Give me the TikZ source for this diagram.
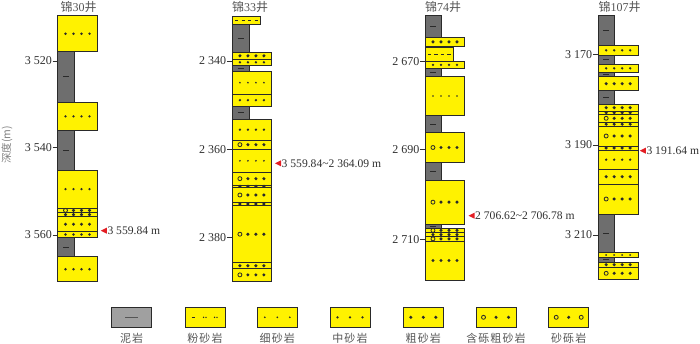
\documentclass[tikz,border=0pt]{standalone}
\usepackage{fontspec}
\setmainfont{Liberation Serif}
\newfontfamily\cjk{Noto Sans CJK SC}
\definecolor{sandy}{HTML}{FFF200}
\definecolor{mudc}{HTML}{6E6E6E}
\definecolor{legmud}{HTML}{A0A0A0}
\definecolor{edgec}{HTML}{2A2A2A}
\definecolor{arrowred}{HTML}{E31E24}
\definecolor{txt}{HTML}{303030}
\definecolor{gtxt}{HTML}{555555}
\tikzset{
  bedst/.style={fill=sandy, draw=edgec, line width=0.9pt},
  mudst/.style={fill=mudc, draw=edgec, line width=0.9pt},
  legmudst/.style={fill=legmud, draw=edgec, line width=0.9pt},
  mudsym/.style={draw=edgec, line width=1pt},
  tickst/.style={draw=txt, line width=0.8pt},
  depthlab/.style={text=txt, inner sep=0pt, font=\fontsize{12}{14}\selectfont},
  marklab/.style={text=txt, inner sep=0pt, font=\fontsize{11.6}{14}\selectfont},
  titlab/.style={text=gtxt, inner sep=0pt, font=\fontsize{12}{14}\selectfont},
  leglab/.style={text=gtxt, inner sep=0pt, font=\cjk\fontsize{11}{13}\selectfont\addfontfeature{LetterSpace=10}},
  axislab/.style={text=gray, inner sep=0pt, font=\cjk\fontsize{10.5}{12}\selectfont}
}
\newcommand\symf[2]{\fill[edgec] (#1,#2) circle (0.95);}
\newcommand\symm[2]{\fill[edgec] (#1,#2) circle (1.3);}
\newcommand\symg[2]{\fill[edgec] (#1,#2) circle (1.7);}
\newcommand\symo[2]{\draw[edgec, line width=0.8pt] (#1,#2) circle (2.0);}
\newcommand\syms[2]{\draw[edgec, line width=0.9pt] ({#1-1.6},#2) -- ({#1+1.6},#2);}
\newcommand\symp[2]{\fill[edgec] ({#1-1.2},#2) circle (0.8); \fill[edgec] ({#1+1.2},#2) circle (0.8);}
\def\bedsp{8}
\newcommand\Bed[5]{%
  \filldraw[bedst] (#1,#3) rectangle (#2,#4);
  \pgfmathsetmacro\bcx{(#1+#2)/2}%
  \pgfmathsetmacro\bcy{(#3+#4)/2}%
  \foreach \k [count=\i] in {#5}{%
    \pgfmathsetmacro\bpx{\bcx+(\i-2.5)*\bedsp}%
    \csname sym\k\endcsname{\bpx}{\bcy}%
  }%
}
\newcommand\SB[3]{\Bed{\xl}{\xr}{#1}{#2}{#3}}
\newcommand\MB[2]{%
  \filldraw[mudst] (\xl,#1) rectangle (\xm,#2);
  \draw[mudsym] ({(\xl+\xm)/2-3},{(#1+#2)/2}) -- ++(6,0);}
\newcommand\Tick[2]{%
  \draw[tickst] ({\xl-5},#1) -- (\xl,#1);
  \node[depthlab, anchor=east] at ({\xl-5.6},#1) {#2};}
\newcommand\Mark[3]{%
  \fill[arrowred] (#1,#2) -- ++(6,-3) -- ++(0,6) -- cycle;
  \node[marklab, anchor=west] at ({#1+6.5},#2) {#3};}
\newcommand\LegBox[1]{\filldraw[bedst] (#1,307.3) rectangle ++(40,20);}
\begin{document}
\begin{tikzpicture}[x=1pt,y=-1pt]
\useasboundingbox (0,0) rectangle (700,343);
% axis label
\node[axislab, rotate=90] (ax) at (7,145) {深度(m)};
% ---------------- well 1
\node[titlab] (t1) at (78.5,6.5) {{\cjk 锦}30{\cjk 井}};
\def\xl{57.7}\def\xr{97.3}\def\xm{74.3}
\SB{15.7}{51.7}{m,m,m,m}
\MB{51.7}{102}
\SB{102}{130.7}{m,m,m,m}
\MB{130.7}{170}
\SB{170}{208.3}{m,m,m,m}
\SB{208.3}{212.5}{o,g,g,g}
\SB{212.5}{216.7}{g,g,g,g}
\SB{216.7}{231.7}{g,g,g,g}
\SB{231.7}{237.3}{m,m,m,m}
\MB{237.3}{256.7}
\SB{256.7}{281.7}{m,m,m,m}
\Tick{61}{3 520}
\Tick{147.3}{3 540}
\Tick{235}{3 560}
\Mark{100.8}{230.7}{3 559.84 m}
% ---------------- well 2
\node[titlab] (t2) at (250,6.5) {{\cjk 锦}33{\cjk 井}};
\def\xl{232}\def\xr{271.8}\def\xm{249}
\def\bedsp{6.5}\Bed{232}{260.7}{16}{24}{s,s,s,s}\def\bedsp{8}
\MB{24}{52.3}
\SB{52.3}{59.3}{g,g,g,g}
\SB{59.3}{65.3}{m,m,m,m}
\MB{65.3}{71}
\SB{71}{94.3}{f,f,f,f}
\SB{94.3}{106}{m,m,m,m}
\MB{106}{119.3}
\SB{119.3}{140}{m,m,m,m}
\SB{140}{149.3}{o,g,g,g}
\SB{149.3}{172.3}{f,f,f,f}
\SB{172.3}{185}{o,g,g,g}
\SB{185}{187.7}{g,g,g,g}
\SB{187.7}{202.3}{o,g,g,g}
\SB{202.3}{205.7}{g,g,g,g}
\SB{205.7}{262.7}{o,g,g,g}
\SB{262.7}{268.7}{g,g,g,g}
\SB{268.7}{281}{o,g,g,g}
\Tick{61}{2 340}
\Tick{149.3}{2 360}
\Tick{237.7}{2 380}
\Mark{275}{163.3}{3 559.84\textasciitilde 2 364.09 m}
% ---------------- well 3
\node[titlab] (t3) at (443,6.5) {{\cjk 锦}74{\cjk 井}};
\def\xl{425.2}\def\xr{464.7}\def\xm{441.5}
\MB{15}{37.7}
\SB{37.7}{46}{g,g,g,g}
\def\bedsp{6.5}\Bed{425.2}{453.3}{47}{61}{s,s,s,s}\def\bedsp{8}
\SB{61}{68.7}{m,m,m,m}
\MB{68.7}{76.7}
\SB{76.7}{115.3}{f,f,f,f}
\MB{115.8}{132.7}
\SB{132.7}{162.3}{o,g,g,g}
\MB{162.3}{180}
\SB{180}{224.3}{o,g,g,g}
\MB{224.3}{228.3}
\SB{228.3}{232.5}{o,g,g,g}
\SB{232.5}{236.7}{g,g,g,g}
\SB{236.7}{241}{o,g,g,g}
\SB{241}{280}{g,g,g,g}
\Tick{61.3}{2 670}
\Tick{149.3}{2 690}
\Tick{239.3}{2 710}
\Mark{468.5}{215.7}{2 706.62\textasciitilde 2 706.78 m}
% ---------------- well 4
\node[titlab] (t4) at (619.5,6.5) {{\cjk 锦}107{\cjk 井}};
\def\xl{598}\def\xr{638.3}\def\xm{614.3}
\MB{15}{45.7}
\SB{45.7}{55}{m,m,m,m}
\MB{55}{64}
\SB{64}{72.7}{m,m,m,m}
\MB{72.7}{76.7}
\SB{76.7}{90.7}{g,g,g,g}
\MB{90.7}{104.3}
\SB{104.3}{111}{g,g,g,g}
\SB{111}{114.3}{g,g,g,g}
\SB{114.3}{122.3}{o,g,g,g}
\SB{122.3}{126}{g,g,g,g}
\SB{126}{146}{o,g,g,g}
\SB{146}{150}{g,g,g,g}
\SB{150}{169.3}{m,m,m,m}
\SB{169.3}{184}{g,g,g,g}
\SB{184}{214}{o,g,g,g}
\MB{214}{252.7}
\SB{252.7}{257.3}{f,f,f,f}
\MB{257.3}{262}
\SB{262}{267.3}{g,g,g,g}
\SB{267.3}{279.3}{o,g,g,g}
\Tick{54.3}{3 170}
\Tick{145}{3 190}
\Tick{235}{3 210}
\Mark{639.8}{150.7}{3 191.64 m}
% ---------------- legend
\filldraw[legmudst] (111.7,307.3) rectangle ++(40,20);
\draw[draw=gtxt, line width=0.8pt] (125,317.3) -- (138.4,317.3);
\node[leglab] (l1) at (131.7,338.5) {泥岩};
\LegBox{185}
\syms{193.5}{317.3} \symp{204.8}{317.3} \symp{215.8}{317.3}
\node[leglab] (l2) at (205,338.5) {粉砂岩};
\LegBox{257.3}
\symf{264.8}{317.3} \symf{277.3}{317.3} \symf{289.8}{317.3}
\node[leglab] (l3) at (277.3,338.5) {细砂岩};
\LegBox{330}
\symm{337.5}{317.3} \symm{350}{317.3} \symm{362.5}{317.3}
\node[leglab] (l4) at (350,338.5) {中砂岩};
\LegBox{403.3}
\symg{410.8}{317.3} \symg{423.3}{317.3} \symg{435.8}{317.3}
\node[leglab] (l5) at (423.3,338.5) {粗砂岩};
\LegBox{476}
\symo{483.5}{317.3} \symg{496}{317.3} \symg{508.5}{317.3}
\node[leglab] (l6) at (496,338.5) {含砾粗砂岩};
\LegBox{548.7}
\symo{556.2}{317.3} \symg{568.7}{317.3} \symo{581.2}{317.3}
\node[leglab] (l7) at (568.7,338.5) {砂砾岩};
\end{tikzpicture}
\end{document}
